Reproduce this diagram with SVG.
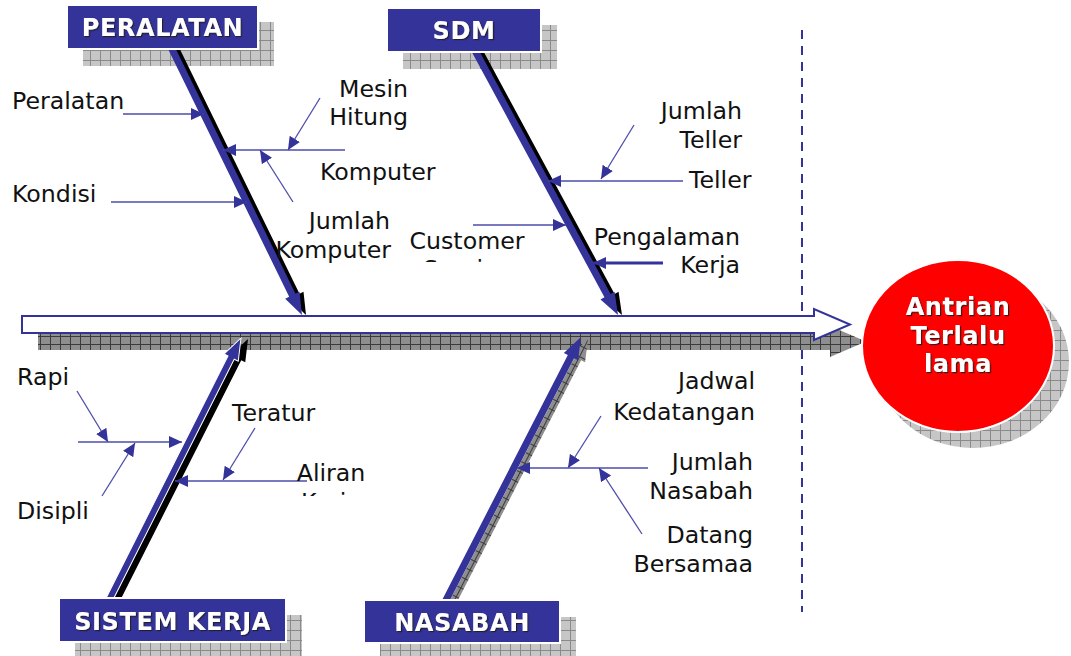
<svg xmlns="http://www.w3.org/2000/svg" width="1071" height="656" viewBox="0 0 1071 656">
<style>
.lbl{font-family:"DejaVu Sans","Verdana",sans-serif;font-size:23.7px;fill:#111}
.btxt{font-family:"DejaVu Sans","Verdana",sans-serif;font-size:24px;font-weight:bold;fill:#fff;text-anchor:middle;letter-spacing:0.6px}
.box{fill:#333399;stroke:#fff;stroke-width:2}
.bshadow{fill:url(#gridLight)}
.thin{stroke:#4d4daa;stroke-width:1.3;fill:none;marker-end:url(#ah)}
.bone{fill:#333399}
.boneSh{fill:#000}
</style>
<defs>
<pattern id="gridLight" width="10" height="10" patternUnits="userSpaceOnUse">
<rect width="10" height="10" fill="#c6c6c6"/>
<path d="M0 0.5H10M0.5 0V10" stroke="#8a8a8a" stroke-width="1"/>
</pattern>
<pattern id="gridDark" width="10" height="8" patternUnits="userSpaceOnUse">
<rect width="10" height="8" fill="#8e8e8e"/>
<path d="M0 0.5H10M0.5 0V8" stroke="#3a3a3a" stroke-width="1"/>
</pattern>
<marker id="ah" markerUnits="userSpaceOnUse" markerWidth="14" markerHeight="13" refX="13" refY="6" orient="auto">
<path d="M0,0 L13,6 L0,12 Z" fill="#333399"/>
</marker>
<filter id="tsh" x="-10%" y="-20%" width="130%" height="150%">
<feDropShadow dx="1.2" dy="1.2" stdDeviation="0.7" flood-color="#1a1a1a" flood-opacity="0.9"/>
</filter>
<clipPath id="clipCS"><rect x="380" y="200" width="200" height="62"/></clipPath>
<clipPath id="clipAK"><rect x="280" y="450" width="120" height="46"/></clipPath>
</defs>

<!-- dashed separator -->
<line x1="802" y1="30" x2="802" y2="612" stroke="#333399" stroke-width="2" stroke-dasharray="9,7"/>

<!-- spine -->
<g id="spine">
<path d="M38,333 H830 V326 L866,341.5 L830,357 V350 H38 Z" fill="url(#gridDark)"/>
<path d="M22,316 H814 V309 L850,324.5 L814,340 V333 H22 Z" fill="#fff" stroke="#333399" stroke-width="2"/>
</g>

<!-- box shadows -->
<rect class="bshadow" x="83" y="22" width="191" height="44"/>
<rect class="bshadow" x="403" y="25" width="154" height="44"/>
<rect class="bshadow" x="75" y="615" width="227" height="44"/>
<rect class="bshadow" x="380" y="617" width="196" height="43"/>
<ellipse cx="973" cy="362" rx="96" ry="86" fill="url(#gridLight)"/>

<!-- bones -->
<g id="bones">
<g transform="translate(306,315) rotate(63.94)"><polygon class="boneSh" points="-300.5,-3.5 -22,-3.5 -22,-8 0,0 -22,8 -22,3.5 -300.5,3.5"/></g>
<g transform="translate(302,315) rotate(63.94)"><polygon class="bone" points="-300.5,-3.5 -22,-3.5 -22,-8 0,0 -22,8 -22,3.5 -300.5,3.5"/></g>
<g transform="translate(622,315) rotate(61.6)"><polygon class="boneSh" points="-306.9,-3.5 -22,-3.5 -22,-8 0,0 -22,8 -22,3.5 -306.9,3.5"/></g>
<g transform="translate(618,315) rotate(61.6)"><polygon class="bone" points="-306.9,-3.5 -22,-3.5 -22,-8 0,0 -22,8 -22,3.5 -306.9,3.5"/></g>
<g transform="translate(248,339) rotate(-63.26)"><polygon class="boneSh" points="-295.6,-3.5 -22,-3.5 -22,-8 0,0 -22,8 -22,3.5 -295.6,3.5"/></g>
<g transform="translate(241,338) rotate(-63.26)"><polygon class="bone" stroke="#fff" stroke-width="1" points="-295.6,-3.5 -22,-3.5 -22,-8 0,0 -22,8 -22,3.5 -295.6,3.5"/></g>
<g transform="translate(588,339) rotate(-62.83)"><polygon fill="url(#gridDark)" points="-297.9,-3.5 -22,-3.5 -22,-8 0,0 -22,8 -22,3.5 -297.9,3.5"/></g>
<g transform="translate(581,337) rotate(-62.83)"><polygon class="bone" points="-297.9,-3.5 -22,-3.5 -22,-8 0,0 -22,8 -22,3.5 -297.9,3.5"/></g>
</g>

<!-- category boxes -->
<g id="peralatan"><rect class="box" x="67" y="5" width="191" height="44"/><text class="btxt" x="162.5" y="36" filter="url(#tsh)">PERALATAN</text></g>
<g id="sdm"><rect class="box" x="387" y="8" width="154" height="44"/><text class="btxt" x="464" y="39" filter="url(#tsh)">SDM</text></g>
<g id="sistemkerja"><rect class="box" x="59" y="598" width="227" height="44"/><text class="btxt" x="172.5" y="630" filter="url(#tsh)">SISTEM KERJA</text></g>
<g id="nasabah"><rect class="box" x="364" y="600" width="196" height="43"/><text class="btxt" x="462" y="631" filter="url(#tsh)">NASABAH</text></g>

<!-- effect -->
<g id="effect">
<ellipse cx="958" cy="346" rx="96" ry="86" fill="#ff0000" stroke="#fff" stroke-width="2"/>
<g filter="url(#tsh)">
<text class="btxt" x="958" y="315">Antrian</text>
<text class="btxt" x="958" y="344">Terlalu</text>
<text class="btxt" x="958" y="372">lama</text>
</g>
</g>

<!-- connectors (sub-causes) -->
<g id="connectors">
<line class="thin" x1="123" y1="114" x2="204" y2="114"/>
<line class="thin" x1="345" y1="150" x2="223" y2="150"/>
<line class="thin" x1="320" y1="98" x2="288" y2="150"/>
<line class="thin" x1="293" y1="202" x2="260" y2="150"/>
<line class="thin" x1="111" y1="202" x2="247" y2="202"/>
<line class="thin" x1="634" y1="125" x2="601" y2="179"/>
<line class="thin" x1="683" y1="181" x2="548" y2="181"/>
<line class="thin" x1="473" y1="225" x2="566" y2="225" stroke="#8f8fcc"/>
<line class="thin" x1="663" y1="263" x2="593" y2="263" style="stroke-width:3;stroke:#333399"/>
<line class="thin" x1="77" y1="391" x2="108" y2="442"/>
<line class="thin" x1="78" y1="442" x2="182" y2="442"/>
<line class="thin" x1="102" y1="496" x2="135" y2="443"/>
<line class="thin" x1="255" y1="428" x2="223" y2="480"/>
<line class="thin" x1="307" y1="481" x2="175" y2="481"/>
<line class="thin" x1="601" y1="416" x2="568" y2="468"/>
<line class="thin" x1="648" y1="468" x2="517" y2="468"/>
<line class="thin" x1="642" y1="534" x2="599" y2="468"/>
</g>

<!-- labels -->
<g id="labels">
<text class="lbl" x="12" y="109">Peralatan</text>
<text class="lbl" x="408" y="97" text-anchor="end">Mesin</text>
<text class="lbl" x="408" y="125" text-anchor="end">Hitung</text>
<text class="lbl" x="320" y="180">Komputer</text>
<text class="lbl" x="12" y="202">Kondisi</text>
<text class="lbl" x="390" y="229" text-anchor="end">Jumlah</text>
<text class="lbl" x="391" y="258" text-anchor="end">Komputer</text>
<text class="lbl" x="742" y="119" text-anchor="end">Jumlah</text>
<text class="lbl" x="742" y="148" text-anchor="end">Teller</text>
<text class="lbl" x="689" y="188">Teller</text>
<g clip-path="url(#clipCS)">
<text class="lbl" x="467" y="249" text-anchor="middle">Customer</text>
<text class="lbl" x="467" y="277" text-anchor="middle">Service</text>
</g>
<text class="lbl" x="740" y="245" text-anchor="end">Pengalaman</text>
<text class="lbl" x="740" y="273" text-anchor="end">Kerja</text>
<text class="lbl" x="17" y="385">Rapi</text>
<text class="lbl" x="232" y="421">Teratur</text>
<g clip-path="url(#clipAK)">
<text class="lbl" x="331" y="481" text-anchor="middle">Aliran</text>
<text class="lbl" x="331" y="510" text-anchor="middle">Kerja</text>
</g>
<text class="lbl" x="17" y="519">Disipli</text>
<text class="lbl" x="755" y="389" text-anchor="end">Jadwal</text>
<text class="lbl" x="755" y="420" text-anchor="end">Kedatangan</text>
<text class="lbl" x="753" y="470" text-anchor="end">Jumlah</text>
<text class="lbl" x="753" y="499" text-anchor="end">Nasabah</text>
<text class="lbl" x="753" y="543" text-anchor="end">Datang</text>
<text class="lbl" x="753" y="572" text-anchor="end">Bersamaa</text>
</g>
</svg>
